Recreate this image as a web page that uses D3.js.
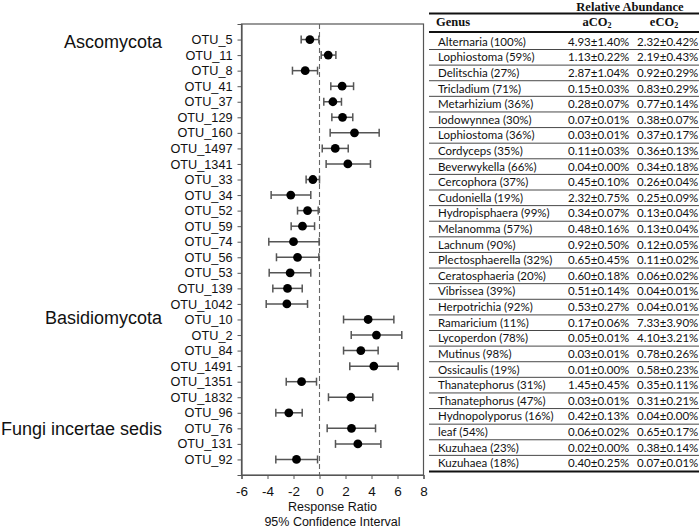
<!DOCTYPE html>
<html><head><meta charset="utf-8">
<script src="https://cdn.jsdelivr.net/npm/d3@7/dist/d3.min.js"></script>
<style>body{margin:0;background:#fff}svg{display:block}</style>
</head><body><svg id="c" width="700" height="529"></svg>
<script>
const otus = ["OTU_5","OTU_11","OTU_8","OTU_41","OTU_37","OTU_129","OTU_160","OTU_1497","OTU_1341","OTU_33","OTU_34","OTU_52","OTU_59","OTU_74","OTU_56","OTU_53","OTU_139","OTU_1042","OTU_10","OTU_2","OTU_84","OTU_1491","OTU_1351","OTU_1832","OTU_96","OTU_76","OTU_131","OTU_92"];
const meanRR = [-0.74,0.67,-1.10,1.74,1.03,1.77,2.69,1.21,2.18,-0.51,-2.21,-0.92,-1.31,-2.00,-1.69,-2.26,-2.46,-2.51,3.74,4.38,3.18,4.18,-1.38,2.41,-2.36,2.46,2.95,-1.77];
const lowCI = [-1.41,0.13,-2.08,0.87,0.33,0.95,0.82,0.21,0.51,-1.03,-3.72,-1.69,-2.18,-3.90,-3.31,-3.87,-3.59,-4.10,1.85,2.44,1.85,2.33,-2.56,0.69,-3.36,0.59,1.23,-3.36];
const highCI = [-0.05,1.26,-0.15,2.62,1.69,2.56,4.59,2.21,3.92,0.00,-0.67,-0.10,-0.38,-0.03,-0.05,-0.67,-1.33,-0.92,5.72,6.33,4.51,6.05,-0.23,4.10,-1.33,4.31,4.72,-0.15];
const groups = [{name:"Ascomycota", otu:"OTU_5", dy:2.5},{name:"Basidiomycota", otu:"OTU_10", dy:-2},{name:"Fungi incertae sedis", otu:"OTU_76", dy:0}];
const genus = ["Alternaria (100%)","Lophiostoma (59%)","Delitschia (27%)","Tricladium (71%)","Metarhizium (36%)","Iodowynnea (30%)","Lophiostoma (36%)","Cordyceps (35%)","Beverwykella (66%)","Cercophora (37%)","Cudoniella (19%)","Hydropisphaera (99%)","Melanomma (57%)","Lachnum (90%)","Plectosphaerella (32%)","Ceratosphaeria (20%)","Vibrissea (39%)","Herpotrichia (92%)","Ramaricium (11%)","Lycoperdon (78%)","Mutinus (98%)","Ossicaulis (19%)","Thanatephorus (31%)","Thanatephorus (47%)","Hydnopolyporus (16%)","leaf (54%)","Kuzuhaea (23%)","Kuzuhaea (18%)"];
const aCO2 = ["4.93±1.40%","1.13±0.22%","2.87±1.04%","0.15±0.03%","0.28±0.07%","0.07±0.01%","0.03±0.01%","0.11±0.03%","0.04±0.00%","0.45±0.10%","2.32±0.75%","0.34±0.07%","0.48±0.16%","0.92±0.50%","0.65±0.45%","0.60±0.18%","0.51±0.14%","0.53±0.27%","0.17±0.06%","0.05±0.01%","0.03±0.01%","0.01±0.00%","1.45±0.45%","0.03±0.01%","0.42±0.13%","0.06±0.02%","0.02±0.00%","0.40±0.25%"];
const eCO2 = ["2.32±0.42%","2.19±0.43%","0.92±0.29%","0.83±0.29%","0.77±0.14%","0.38±0.07%","0.37±0.17%","0.36±0.13%","0.34±0.18%","0.26±0.04%","0.25±0.09%","0.13±0.04%","0.13±0.04%","0.12±0.05%","0.11±0.02%","0.06±0.02%","0.04±0.01%","0.04±0.01%","7.33±3.90%","4.10±3.21%","0.78±0.26%","0.58±0.23%","0.35±0.11%","0.31±0.21%","0.04±0.00%","0.65±0.17%","0.38±0.14%","0.07±0.01%"];
const xTicks = [-6,-4,-2,0,2,4,6,8];

const svg = d3.select("#c");
const sans = "'Liberation Sans', Arial, sans-serif";
const serif = "'Liberation Serif', 'Times New Roman', serif";
const L = 241.5, R = 423.5, T = 24, B = 475;
const x = d3.scaleLinear().domain([-6, 8]).range([L, R]);
const y = d3.scalePoint().domain(otus).range([T, B]).padding(1);
const frameCol = "#555";

svg.append("rect").attr("x", L).attr("y", T).attr("width", R - L).attr("height", B - T)
  .attr("fill", "none").attr("stroke", frameCol).attr("stroke-width", 1.2);

const xa = svg.append("g").attr("transform", `translate(0,${B})`)
  .call(d3.axisBottom(x).tickValues(xTicks).tickSize(4).tickFormat(d => String(d)));
xa.select(".domain").attr("stroke", frameCol).attr("stroke-width", 1.2);
xa.selectAll(".tick line").attr("stroke", frameCol);
xa.selectAll(".tick text").attr("font-family", sans).attr("font-size", 13.5).attr("fill", "#111").attr("dy", "1.05em");

const ya = svg.append("g").attr("transform", `translate(${L},0)`)
  .call(d3.axisLeft(y).tickSize(4).tickPadding(5));
ya.select(".domain").attr("stroke", frameCol).attr("stroke-width", 1.2);
ya.selectAll(".tick line").attr("stroke", frameCol);
ya.selectAll(".tick text").attr("font-family", sans).attr("font-size", 12.7).attr("fill", "#111");

svg.append("line").attr("x1", x(0)).attr("x2", x(0)).attr("y1", T).attr("y2", B)
  .attr("stroke", "#666").attr("stroke-width", 1.1).attr("stroke-dasharray", "5,3");

const eb = svg.append("g").attr("stroke", "#555").attr("stroke-width", 1.5);
otus.forEach((o, i) => {
  const yy = y(o);
  eb.append("line").attr("x1", x(lowCI[i])).attr("x2", x(highCI[i])).attr("y1", yy).attr("y2", yy);
  eb.append("line").attr("x1", x(lowCI[i])).attr("x2", x(lowCI[i])).attr("y1", yy - 4).attr("y2", yy + 4);
  eb.append("line").attr("x1", x(highCI[i])).attr("x2", x(highCI[i])).attr("y1", yy - 4).attr("y2", yy + 4);
});
svg.append("g").selectAll("circle").data(otus).join("circle")
  .attr("cx", (o, i) => x(meanRR[i])).attr("cy", o => y(o)).attr("r", 4.4).attr("fill", "#000");

svg.append("g").selectAll("text").data(groups).join("text")
  .attr("x", 162).attr("y", g => y(g.otu) + g.dy).attr("dy", "0.35em")
  .attr("text-anchor", "end").attr("font-family", sans).attr("font-size", 18).attr("fill", "#111")
  .text(g => g.name);

svg.append("text").attr("x", x(1)).attr("y", 511).attr("text-anchor", "middle")
  .attr("font-family", sans).attr("font-size", 12.5).attr("fill", "#111").text("Response Ratio");
svg.append("text").attr("x", x(1)).attr("y", 525.5).attr("text-anchor", "middle")
  .attr("font-family", sans).attr("font-size", 12.5).attr("fill", "#111").text("95% Confidence Interval");

const tx0 = 429, tx1 = 699;
const rowScale = d3.scaleBand().domain(d3.range(genus.length)).range([33.9, 471]);
const tb = svg.append("g");
tb.append("text").attr("x", 630).attr("y", 11).attr("text-anchor", "middle")
  .attr("font-family", serif).attr("font-weight", "bold").attr("font-size", 12.5).attr("fill", "#111")
  .text("Relative Abundance");
tb.append("line").attr("x1", tx0).attr("x2", tx1).attr("y1", 13.5).attr("y2", 13.5).attr("stroke", "#111").attr("stroke-width", 2);
tb.append("text").attr("x", 436).attr("y", 26).attr("font-family", serif).attr("font-weight", "bold")
  .attr("font-size", 12.5).attr("fill", "#111").text("Genus");
[["aCO", 597], ["eCO", 664]].forEach(([t, cx]) => {
  const tt = tb.append("text").attr("x", cx).attr("y", 26).attr("text-anchor", "middle")
    .attr("font-family", serif).attr("font-weight", "bold").attr("font-size", 12.5).attr("fill", "#111");
  tt.append("tspan").text(t);
  tt.append("tspan").attr("font-size", 8).attr("dy", 2).text("2");
});
tb.append("line").attr("x1", tx0).attr("x2", tx1).attr("y1", 32).attr("y2", 32).attr("stroke", "#111").attr("stroke-width", 2);
genus.forEach((g, i) => {
  const y0 = rowScale(i), cy = y0 + rowScale.bandwidth() / 2;
  const tf = sel => sel.attr("font-family", "Lato, 'Liberation Sans', sans-serif").attr("font-size", 11.5).attr("fill", "#111");
  tb.append("text").attr("x", 438).attr("y", cy + 4).call(tf).text(g);
  tb.append("text").attr("x", 568).attr("y", cy + 4).call(tf).text(aCO2[i]);
  tb.append("text").attr("x", 637).attr("y", cy + 4).call(tf).text(eCO2[i]);
  if (i < genus.length - 1) {
    const yl = y0 + rowScale.bandwidth();
    tb.append("line").attr("x1", tx0).attr("x2", tx1).attr("y1", yl).attr("y2", yl).attr("stroke", "#333").attr("stroke-width", 0.9);
  }
});
tb.append("line").attr("x1", tx0).attr("x2", tx1).attr("y1", 471.5).attr("y2", 471.5).attr("stroke", "#111").attr("stroke-width", 2);
</script></body></html>
